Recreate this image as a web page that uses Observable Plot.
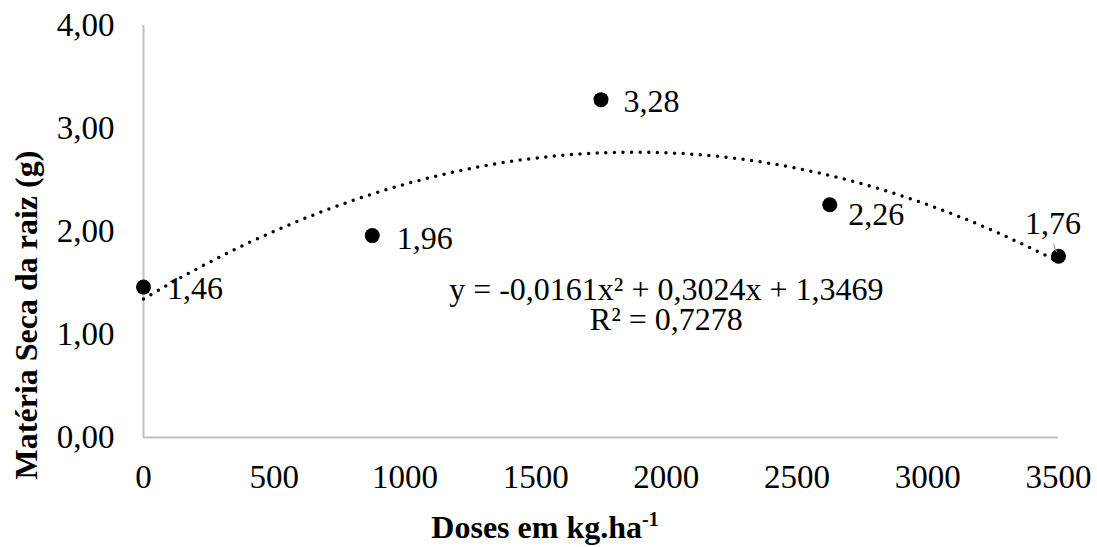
<!DOCTYPE html>
<html>
<head>
<meta charset="utf-8">
<script src="https://cdn.jsdelivr.net/npm/d3@7"></script>
<script src="https://cdn.jsdelivr.net/npm/@observablehq/plot@0.6"></script>
<style>
  html, body { margin: 0; padding: 0; background: #fff; }
  #chart { width: 1097px; height: 547px; }
</style>
</head>
<body>
<div id="chart"></div>
<script>
// ---- data ----
const doses = [0, 875, 1750, 2625, 3500];
const materiaSeca = [1.46, 1.96, 3.28, 2.26, 1.76];
const pointLabels = ["1,46", "1,96", "3,28", "2,26", "1,76"];
const yTicks = [0, 1, 2, 3, 4];
const xTicks = [0, 500, 1000, 1500, 2000, 2500, 3000, 3500];
const equationText = "y = -0,0161x² + 0,3024x + 1,3469\nR² = 0,7278";
const xTitle = "Doses em kg.ha";
const xTitleSup = "-1";
const yTitle = "Matéria Seca da raiz (g)";

// label offsets (styling, px)
const labelDx = [24, 25, 23, 19, -5];
const labelDy = [1, 3, 2, 10, -33];
const labelAnchor = ["start", "start", "start", "start", "middle"];

const points = doses.map((d, i) => ({x: d, y: materiaSeca[i], label: pointLabels[i], dx: labelDx[i], dy: labelDy[i], anchor: labelAnchor[i]}));

// ---- quadratic least-squares trend (like Excel polynomial trendline) ----
function quadFit(xs, ys) {
  const s = 1000;
  const X = xs.map(v => v / s);
  let S = [0,0,0,0,0], T = [0,0,0];
  X.forEach((x, i) => {
    for (let k = 0; k < 5; k++) S[k] += Math.pow(x, k);
    for (let k = 0; k < 3; k++) T[k] += ys[i] * Math.pow(x, k);
  });
  const M = [[S[0],S[1],S[2],T[0]],[S[1],S[2],S[3],T[1]],[S[2],S[3],S[4],T[2]]];
  for (let i = 0; i < 3; i++) {
    let p = i;
    for (let r = i+1; r < 3; r++) if (Math.abs(M[r][i]) > Math.abs(M[p][i])) p = r;
    [M[i], M[p]] = [M[p], M[i]];
    for (let r = 0; r < 3; r++) if (r !== i) {
      const f = M[r][i] / M[i][i];
      for (let c = i; c < 4; c++) M[r][c] -= f * M[i][c];
    }
  }
  const a = M[0][3]/M[0][0], b = M[1][3]/M[1][1], c = M[2][3]/M[2][2];
  return x => a + b*(x/s) + c*(x/s)*(x/s);
}
const f = quadFit(doses, materiaSeca);
const trend = d3.range(0, 3500 + 1, 20).map(x => ({x, y: f(x)}));

const fmt = d => d.toFixed(2).replace(".", ",");
const FONT = "'Liberation Serif', 'Times New Roman', serif";

const chart = Plot.plot({
  width: 1097,
  height: 547,
  marginLeft: 143,
  marginRight: 39,
  marginTop: 25,
  marginBottom: 110,
  style: {fontFamily: FONT, fontSize: "32px", color: "#000", background: "#fff"},
  x: {domain: [0, 3500]},
  y: {domain: [0, 4]},
  marks: [
    Plot.ruleX([0], {stroke: "#bfbfbf", strokeWidth: 2}),
    Plot.ruleY([0], {stroke: "#bfbfbf", strokeWidth: 2}),
    Plot.axisY({ticks: yTicks, tickFormat: fmt, tickSize: 0, tickPadding: 29, label: null, fontSize: 33, fill: "#000"}),
    Plot.axisX({ticks: xTicks, tickFormat: d => String(d), tickSize: 0, tickPadding: 27, label: null, fontSize: 33, fill: "#000"}),
    Plot.line(trend, {x: "x", y: "y", stroke: "#000", strokeWidth: 3.5, strokeDasharray: "0,8.6", strokeLinecap: "round", curve: "linear"}),
    Plot.dot(points, {x: "x", y: "y", r: 7.5, fill: "#000", stroke: "none"}),
    Plot.text([equationText], {x: 2000, y: 1.28, text: d => d, textAnchor: "middle", lineAnchor: "middle", lineHeight: 0.93, fontSize: 32, fill: "#000"})
  ]
});
document.getElementById("chart").appendChild(chart);

const svg = d3.select(chart);
const xs = chart.scale("x"), ys = chart.scale("y");
// data labels with individual offsets, placed through the plot scales
const lab = svg.append("g").attr("font-family", FONT).attr("font-size", 32).attr("fill", "#000");
points.forEach(p => {
  lab.append("text")
    .attr("x", xs.apply(p.x) + p.dx)
    .attr("y", ys.apply(p.y) + p.dy)
    .attr("dy", "0.35em")
    .attr("text-anchor", p.anchor)
    .text(p.label);
});
// leader line for the last label
const last = points[points.length - 1];
lab.append("line")
  .attr("x1", xs.apply(last.x) - 4.5).attr("y1", ys.apply(last.y) - 12)
  .attr("x2", xs.apply(last.x) - 1.5).attr("y2", ys.apply(last.y) - 4)
  .attr("stroke", "#a6a6a6").attr("stroke-width", 1.2);

// axis titles
const xt = svg.append("text")
  .attr("x", 545).attr("y", 538)
  .attr("text-anchor", "middle")
  .attr("font-family", FONT).attr("font-size", 32).attr("font-weight", "bold").attr("fill", "#000");
xt.append("tspan").text(xTitle);
xt.append("tspan").attr("font-size", 20).attr("dy", -12).text(xTitleSup);

svg.append("text")
  .attr("transform", "translate(37,315) rotate(-90)")
  .attr("text-anchor", "middle")
  .attr("font-family", FONT).attr("font-size", 32).attr("font-weight", "bold").attr("fill", "#000")
  .text(yTitle);
</script>
</body>
</html>
